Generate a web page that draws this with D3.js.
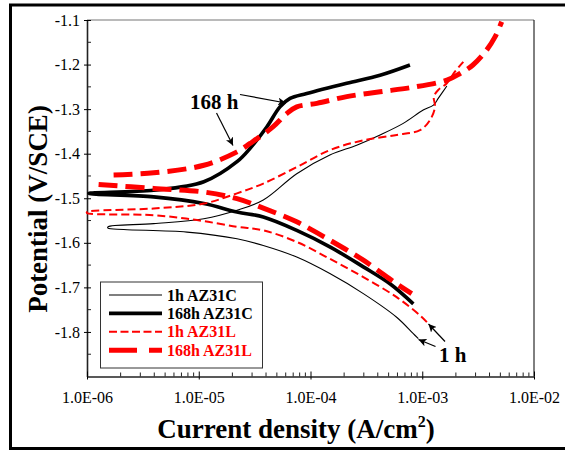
<!DOCTYPE html>
<html>
<head>
<meta charset="utf-8">
<script src="https://cdn.jsdelivr.net/npm/d3@7"></script>
<style>
  html, body { margin: 0; padding: 0; background: #fff; }
  svg { display: block; }
</style>
</head>
<body>
<svg id="chart" width="565" height="457"></svg>
<script>
// ---------- DATA (current density A/cm2, potential V/SCE) ----------
const seriesNames = ["1h AZ31C", "168h AZ31C", "1h AZ31L", "168h AZ31L"];

const az31c_1h_anodic = [[1.54e-6,-1.564],[3.95e-6,-1.557],[1.11e-5,-1.546],[2.20e-5,-1.527],[3.78e-5,-1.504],[7.53e-5,-1.445],[1.49e-4,-1.403],[2.59e-4,-1.381],[4.19e-4,-1.358],[6.76e-4,-1.332],[1.02e-3,-1.302],[1.26e-3,-1.291],[1.39e-3,-1.276],[1.66e-3,-1.248]];
const az31c_1h_cathodic = [[1.54e-6,-1.567],[2.13e-6,-1.570],[7.85e-6,-1.576],[2.20e-5,-1.591],[3.78e-5,-1.606],[7.53e-5,-1.632],[1.49e-4,-1.669],[2.97e-4,-1.714],[5.90e-4,-1.767],[8.32e-4,-1.804],[9.23e-4,-1.815]];

const az31c_168h_anodic = [[1.04e-6,-1.489],[3.95e-6,-1.482],[1.11e-5,-1.463],[2.20e-5,-1.418],[2.88e-5,-1.388],[4.06e-5,-1.340],[5.33e-5,-1.295],[6.56e-5,-1.276],[9.25e-5,-1.265],[2.11e-4,-1.242],[4.19e-4,-1.224],[7.76e-4,-1.201]];
const az31c_168h_cathodic = [[1.04e-6,-1.489],[3.95e-6,-1.497],[1.11e-5,-1.512],[2.20e-5,-1.531],[3.78e-5,-1.542],[7.53e-5,-1.572],[1.49e-4,-1.609],[2.97e-4,-1.654],[5.14e-4,-1.692],[8.32e-4,-1.737]];

const az31l_1h_anodic = [[1.0e-6,-1.531],[3.95e-6,-1.523],[1.11e-5,-1.512],[2.20e-5,-1.489],[3.78e-5,-1.467],[7.53e-5,-1.430],[1.49e-4,-1.392],[2.97e-4,-1.370],[5.90e-4,-1.358],[9.55e-4,-1.347],[1.17e-3,-1.325],[1.30e-3,-1.295],[1.27e-3,-1.272],[1.39e-3,-1.257],[1.66e-3,-1.242],[1.96e-3,-1.216],[2.33e-3,-1.194]];
const az31l_1h_cathodic = [[1.0e-6,-1.533],[3.95e-6,-1.538],[9.64e-6,-1.549],[2.20e-5,-1.564],[3.78e-5,-1.572],[7.53e-5,-1.598],[1.49e-4,-1.636],[2.97e-4,-1.677],[5.90e-4,-1.722],[9.55e-4,-1.763],[1.10e-3,-1.778]];

const az31l_168h_anodic = [[1.73e-6,-1.448],[3.95e-6,-1.443],[1.11e-5,-1.426],[2.20e-5,-1.396],[2.88e-5,-1.377],[4.61e-5,-1.340],[6.12e-5,-1.310],[7.53e-5,-1.295],[1.14e-4,-1.287],[2.11e-4,-1.272],[4.19e-4,-1.261],[8.26e-4,-1.251],[1.66e-3,-1.235],[2.18e-3,-1.220],[2.84e-3,-1.201],[3.78e-3,-1.167],[4.48e-3,-1.138],[5.14e-3,-1.104]];
const az31l_168h_cathodic = [[1.27e-6,-1.469],[3.95e-6,-1.478],[1.11e-5,-1.486],[2.20e-5,-1.501],[3.78e-5,-1.522],[7.53e-5,-1.553],[1.49e-4,-1.594],[2.97e-4,-1.639],[5.90e-4,-1.692],[8.05e-4,-1.714]];

const xTickValues = [1e-6, 1e-5, 1e-4, 1e-3, 1e-2];
const xTickLabels = ["1.0E-06", "1.0E-05", "1.0E-04", "1.0E-03", "1.0E-02"];
const yTickValues = [-1.1, -1.2, -1.3, -1.4, -1.5, -1.6, -1.7, -1.8];
const yTickLabels = ["-1.1", "-1.2", "-1.3", "-1.4", "-1.5", "-1.6", "-1.7", "-1.8"];

// ---------- LAYOUT ----------
const svg = d3.select("#chart");
const L = 87, R = 534, T = 20, B = 376.5;
const serif = "'Liberation Serif', 'Times New Roman', Times, serif";

const x = d3.scaleLog().domain([1e-6, 1e-2]).range([L, R]);
const y = d3.scaleLinear().domain([-1.9, -1.1]).range([B, T]);

// outer frame
svg.append("rect").attr("x", 10.5).attr("y", 5).attr("width", 700).attr("height", 443.5)
  .attr("fill", "none").attr("stroke", "#000").attr("stroke-width", 3);

// plot frame
svg.append("line").attr("x1", L).attr("x2", R).attr("y1", T).attr("y2", T).attr("stroke", "#777").attr("stroke-width", 1.2);
svg.append("line").attr("x1", R).attr("x2", R).attr("y1", T).attr("y2", B).attr("stroke", "#000").attr("stroke-width", 1);

// y axis
const yMinor = d3.range(-1.85, -1.1, 0.1).map(v => +v.toFixed(2));
const yAxis = d3.axisLeft(y).tickValues(yTickValues).tickFormat((d, i) => yTickLabels[i]).tickSizeInner(3).tickSizeOuter(0).tickPadding(4);
const gy = svg.append("g").attr("transform", `translate(${L},0)`).call(yAxis);
gy.select(".domain").attr("stroke", "#222").attr("stroke-width", 1.6);
gy.selectAll(".tick line").clone().attr("x2", 4);
gy.selectAll("text").attr("font-family", serif).attr("font-size", 16).attr("fill", "#000");
svg.append("g").selectAll("line").data(yMinor).join("line")
  .attr("x1", L).attr("x2", L + 4).attr("y1", d => y(d)).attr("y2", d => y(d)).attr("stroke", "#222");

// x axis
const xMinor = [];
for (let e = -6; e < -2; e++) for (let m = 2; m <= 9; m++) xMinor.push(m * Math.pow(10, e));
const xAxis = d3.axisBottom(x).tickValues(xTickValues).tickFormat((d, i) => xTickLabels[i]).tickSizeInner(3).tickSizeOuter(0).tickPadding(12);
const gx = svg.append("g").attr("transform", `translate(0,${B})`).call(xAxis);
gx.select(".domain").attr("stroke", "#222").attr("stroke-width", 1.4);
gx.selectAll(".tick line").clone().attr("y2", -5);
gx.selectAll("text").attr("font-family", serif).attr("font-size", 16).attr("fill", "#000");
svg.append("g").selectAll("line").data(xMinor).join("line")
  .attr("x1", d => x(d)).attr("x2", d => x(d)).attr("y1", B).attr("y2", B - 4).attr("stroke", "#222");

// axis titles
const xt = svg.append("text").attr("x", 296).attr("y", 438).attr("text-anchor", "middle")
  .attr("font-family", serif).attr("font-size", 27).attr("font-weight", "bold").attr("fill", "#000");
xt.append("tspan").text("Current density (A/cm");
xt.append("tspan").attr("font-size", 16).attr("dy", -11).text("2");
xt.append("tspan").attr("dy", 11).text(")");

svg.append("text").attr("transform", "translate(47,209) rotate(-90)").attr("text-anchor", "middle")
  .attr("font-family", serif).attr("font-size", 27).attr("font-weight", "bold").attr("fill", "#000")
  .text("Potential (V/SCE)");

// ---------- CURVES ----------
const line = d3.line().x(d => x(d[0])).y(d => y(d[1])).curve(d3.curveCatmullRom.alpha(0.5));
const styles = [
  { color: "#000", width: 1.1, dash: null, legendDash: null },
  { color: "#000", width: 3.6, dash: null, legendDash: null },
  { color: "#ff0000", width: 2, dash: "8,4", legendDash: "8,3.5" },
  { color: "#ff0000", width: 5, dash: "19,8", legendDash: "28,12" }
];
const branches = [
  [az31c_1h_cathodic.slice().reverse().concat(az31c_1h_anodic)],
  [az31c_168h_cathodic.slice().reverse().concat(az31c_168h_anodic.slice(1))],
  [az31l_1h_cathodic.slice().reverse().concat(az31l_1h_anodic)],
  [az31l_168h_anodic, az31l_168h_cathodic]
];
const gc = svg.append("g");
branches.forEach((bs, si) => {
  bs.forEach(b => {
    gc.append("path").datum(b).attr("d", line).attr("fill", "none")
      .attr("stroke", styles[si].color).attr("stroke-width", styles[si].width)
      .attr("stroke-dasharray", styles[si].dash).attr("stroke-linejoin", "round");
  });
});

// ---------- LEGEND ----------
const lg = svg.append("g");
lg.append("rect").attr("x", 100.5).attr("y", 282).attr("width", 162).attr("height", 86)
  .attr("fill", "#fff").attr("stroke", "#333").attr("stroke-width", 1);
seriesNames.forEach((name, i) => {
  const yy = 295 + i * 18.4;
  lg.append("line").attr("x1", 109).attr("x2", 162).attr("y1", yy).attr("y2", yy)
    .attr("stroke", styles[i].color).attr("stroke-width", styles[i].width)
    .attr("stroke-dasharray", styles[i].legendDash);
  lg.append("text").attr("x", 167).attr("y", yy + 5.5).text(name)
    .attr("font-family", serif).attr("font-size", 16).attr("font-weight", "bold")
    .attr("fill", i < 2 ? "#000" : "#ff0000");
});

// ---------- ANNOTATIONS ----------
const defs = svg.append("defs");
defs.append("marker").attr("id", "arr").attr("viewBox", "0 0 10 10").attr("refX", 10).attr("refY", 5)
  .attr("markerWidth", 8).attr("markerHeight", 8).attr("markerUnits", "userSpaceOnUse").attr("orient", "auto")
  .append("path").attr("d", "M0,0 L10,5 L0,10 L2.5,5 Z").attr("fill", "#000");

const annots = [
  { text: "168 h", tx: 190, ty: 108.5, arrows: [[240, 94.5, 286, 103], [216.5, 113, 233, 145.5]] },
  { text: "1 h", tx: 439, ty: 361.5, arrows: [[445, 341.5, 428.5, 324], [435.5, 346.5, 418.5, 339.5]] }
];
annots.forEach(a => {
  svg.append("text").attr("x", a.tx).attr("y", a.ty).text(a.text)
    .attr("font-family", serif).attr("font-size", 21).attr("font-weight", "bold").attr("fill", "#000");
  a.arrows.forEach(ar => {
    svg.append("line").attr("x1", ar[0]).attr("y1", ar[1]).attr("x2", ar[2]).attr("y2", ar[3])
      .attr("stroke", "#000").attr("stroke-width", 1.2).attr("marker-end", "url(#arr)");
  });
});
</script>
</body>
</html>
